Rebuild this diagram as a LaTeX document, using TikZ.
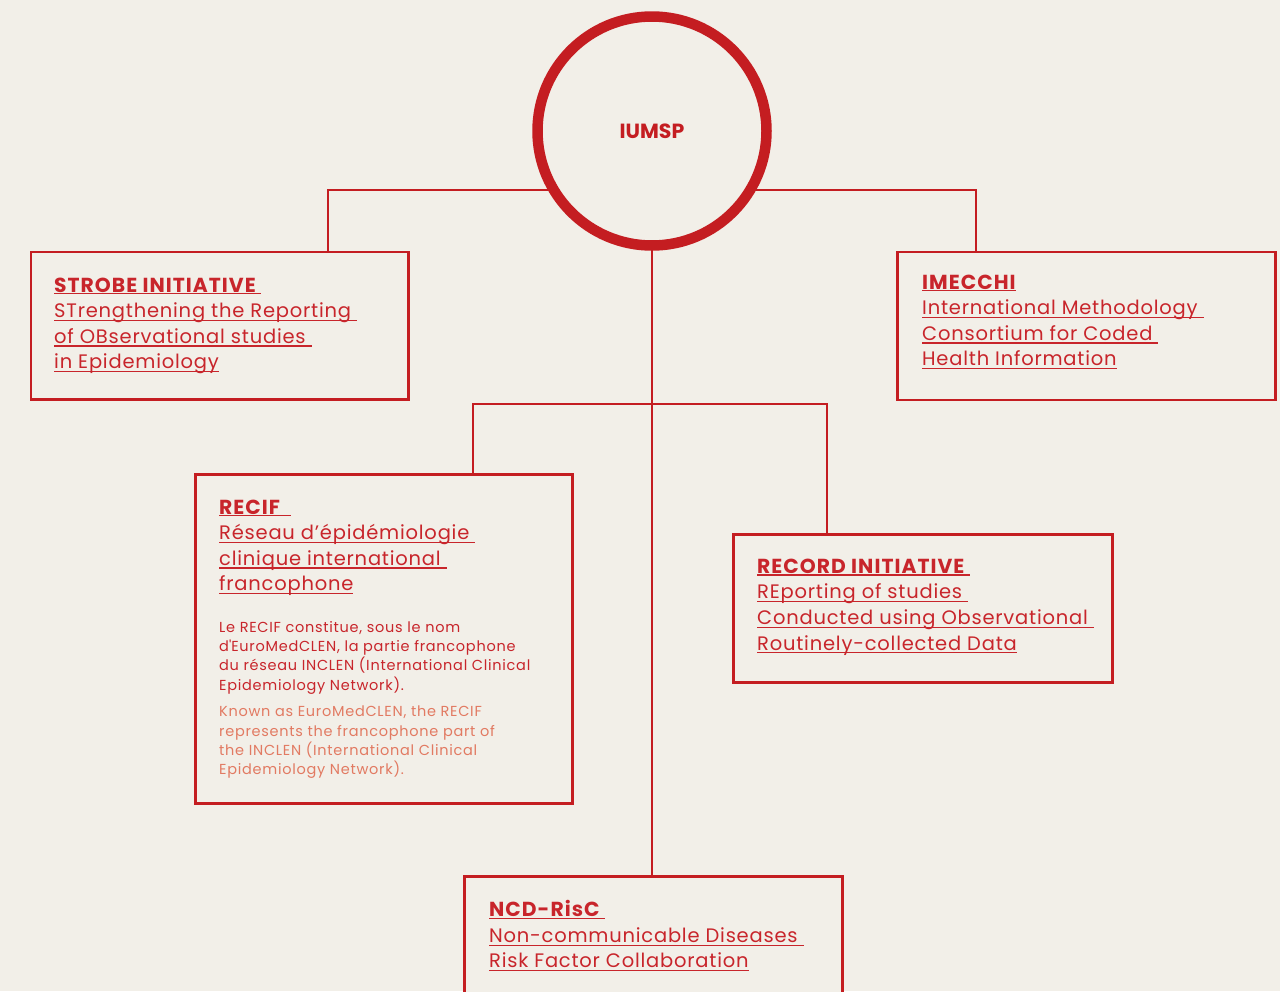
\documentclass[tikz,border=0pt]{standalone}
\usepackage{fontspec}
\setmainfont{Poppins}
\definecolor{bg}{HTML}{F2EFE8}
\definecolor{ired}{HTML}{C41D21}
\definecolor{tred}{HTML}{C8252B}
\definecolor{salmon}{HTML}{E27A62}
\newcommand\myul[1]{\leavevmode\setbox0\hbox{#1}\rlap{\rule[-3.3pt]{\wd0}{1.1pt}}\box0}
\newcommand\myulb[1]{\leavevmode\setbox0\hbox{\fontsize{20.3}{25.6}\selectfont\bfseries\addfontfeature{LetterSpace=5}#1}\rlap{\rule[-2.4pt]{\wd0}{1.5pt}}\box0}
\begin{document}
\begin{tikzpicture}[x=1pt,y=-1pt,
  box/.style={draw=ired, line width=2.6pt, fill=bg, rectangle, inner sep=0, anchor=north west},
  conn/.style={draw=ired, line width=2pt},
  head/.style={anchor=base west, inner sep=0, text=tred, font=\fontsize{19.5}{25.6}\selectfont\addfontfeature{LetterSpace=4}},
  body/.style={anchor=base west, inner sep=0, font=\fontsize{14.5}{19.4}\selectfont\addfontfeature{LetterSpace=5}}]
\path[use as bounding box, fill=bg] (0,0) rectangle (1280,991);
\clip (0,0) rectangle (1280,991);

% boxes
\node[box, minimum width=377.4pt, minimum height=147.4pt] (strobe) at (29.6,250.6) {};
\node[box, minimum width=378pt, minimum height=148pt] (imecchi) at (896.3,250.6) {};
\node[box, minimum width=377.4pt, minimum height=329pt] (recif) at (194,473) {};
\node[box, minimum width=379pt, minimum height=148pt] (record) at (732,533) {};
\node[box, minimum width=378pt, minimum height=200pt] (ncd) at (463,875.3) {};

% junctions
\coordinate (j1) at (328,190);
\coordinate (j2) at (976,190);
\coordinate (j3) at (473,404);
\coordinate (j4) at (827,404);
\coordinate (jc) at (652,404);

% connectors
\draw[conn] (strobe.north -| j1) -- (j1) -- (j2) -- (imecchi.north -| j2);
\draw[conn] (recif.north -| j3) -- (j3) -- (j4) -- (record.north -| j4);
\draw[conn] (652,131) -- (jc) -- (ncd.north -| jc);

% central circle
\node[circle, draw=ired, line width=10.5pt, fill=bg, minimum size=229pt, inner sep=0,
      text=ired, font=\fontsize{20.5}{24}\selectfont\bfseries] (iumsp) at (652,131) {IUMSP};

% texts
\node[head] (strobeT) at (54,292) {\begin{minipage}[t]{340pt}\raggedright
\myulb{STROBE INITIATIVE\ }\\
\myul{STrengthening the Reporting\ }\\
\myul{of OBservational studies\ }\\
\myul{in Epidemiology}\end{minipage}};

\node[head] (imecchiT) at (922,289) {\begin{minipage}[t]{340pt}\raggedright
\myulb{IMECCHI}\\
\myul{International Methodology\ }\\
\myul{Consortium for Coded\ }\\
\myul{Health Information}\end{minipage}};

\node[head] (recifT) at (219,514) {\begin{minipage}[t]{340pt}\raggedright
\myulb{RECIF\ \ }\\
\myul{Réseau d’épidémiologie\ }\\
\myul{clinique international\ }\\
\myul{francophone}\end{minipage}};

\node[body, text=tred] (recifFR) at (219,632) {\begin{minipage}[t]{340pt}\raggedright
Le RECIF constitue, sous le nom\\
d\textquotesingle EuroMedCLEN, la partie francophone\\
du réseau INCLEN (International Clinical\\
Epidemiology Network).\end{minipage}};

\node[body, text=salmon] (recifEN) at (219,716.7) {\begin{minipage}[t]{340pt}\raggedright
Known as EuroMedCLEN, the RECIF\\
represents the francophone part of\\
the INCLEN (International Clinical\\
Epidemiology Network).\end{minipage}};

\node[head] (recordT) at (757,573.3) {\begin{minipage}[t]{340pt}\raggedright
\myulb{RECORD INITIATIVE\ }\\
\myul{REporting of studies\ }\\
\myul{Conducted using Observational\ }\\
\myul{Routinely-collected Data}\end{minipage}};

\node[head] (ncdT) at (489,916.7) {\begin{minipage}[t]{340pt}\raggedright
\myulb{NCD-RisC\ }\\
\myul{Non-communicable Diseases\ }\\
\myul{Risk Factor Collaboration}\end{minipage}};
\end{tikzpicture}
\end{document}
